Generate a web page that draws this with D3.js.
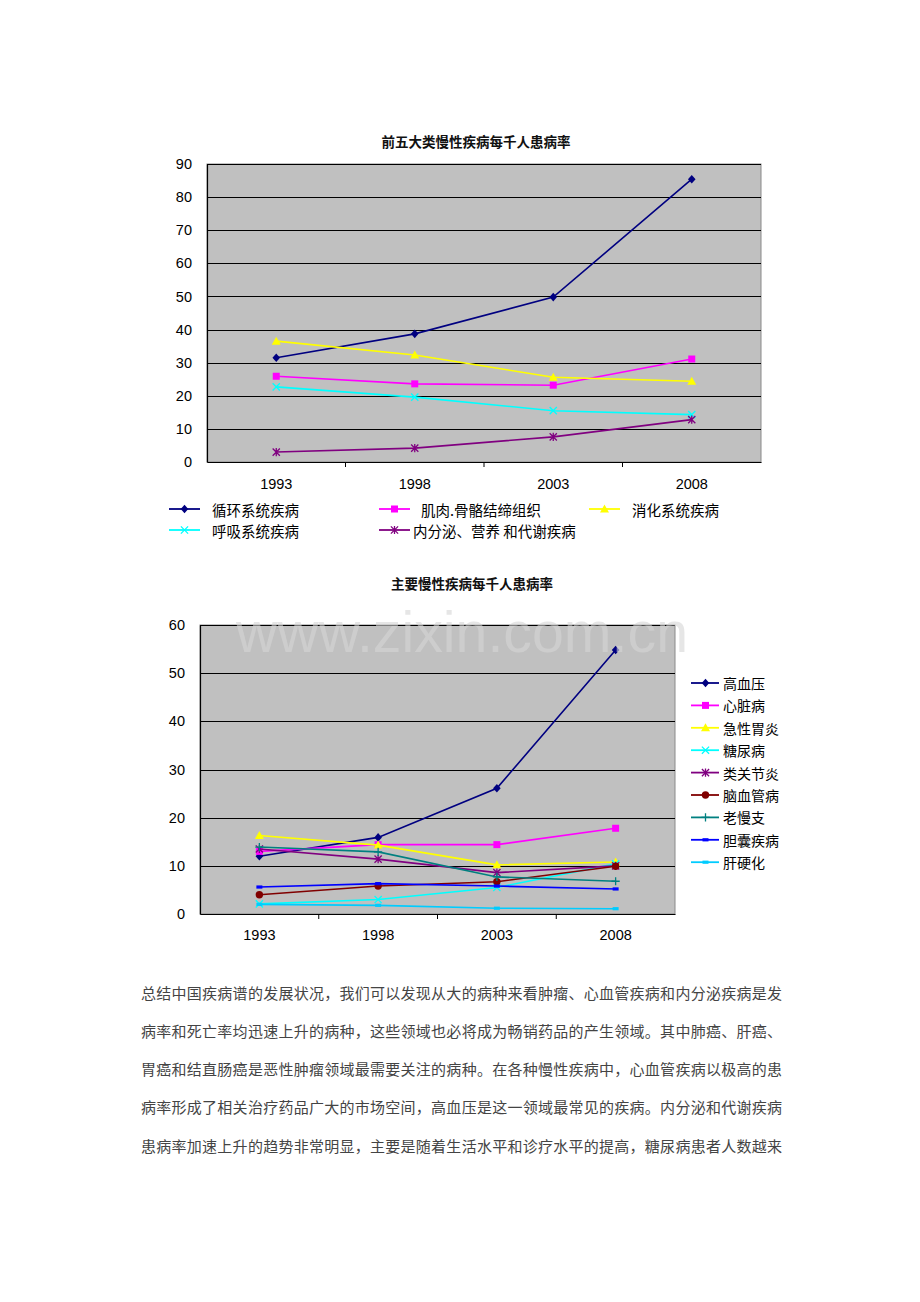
<!DOCTYPE html>
<html>
<head>
<meta charset="utf-8">
<script src="https://cdn.jsdelivr.net/npm/d3@7/dist/d3.min.js"></script>
<style>
  html, body { margin: 0; padding: 0; background: #fff; }
  svg { display: block; }
</style>
</head>
<body>
<script>
// ---------- DATA ----------
const years = ["1993", "1998", "2003", "2008"];

// Chart 1: 前五大类慢性疾病每千人患病率
const chart1Title = "前五大类慢性疾病每千人患病率";
const chart1Ticks = [0, 10, 20, 30, 40, 50, 60, 70, 80, 90];
const circulatory = [31.5, 38.7, 49.8, 85.4];   // 循环系统疾病
const musculoskeletal = [25.9, 23.6, 23.2, 31.1]; // 肌肉.骨骼结缔组织
const digestive = [36.5, 32.3, 25.6, 24.4];     // 消化系统疾病
const respiratory = [22.7, 19.6, 15.5, 14.3];   // 呼吸系统疾病
const endocrine = [3.0, 4.2, 7.6, 12.8];        // 内分泌、营养 和代谢疾病
const chart1Names = ["循环系统疾病", "肌肉.骨骼结缔组织", "消化系统疾病", "呼吸系统疾病", "内分泌、营养 和代谢疾病"];

// Chart 2: 主要慢性疾病每千人患病率
const chart2Title = "主要慢性疾病每千人患病率";
const chart2Ticks = [0, 10, 20, 30, 40, 50, 60];
const hypertension = [12.0, 15.9, 26.1, 54.8];  // 高血压
const heartDisease = [13.0, 14.4, 14.4, 17.8];  // 心脏病
const gastritis = [16.3, 14.3, 10.2, 10.8];     // 急性胃炎
const diabetes = [2.1, 3.0, 5.5, 10.4];         // 糖尿病
const arthritis = [13.5, 11.4, 8.6, 10.0];      // 类关节炎
const cerebrovascular = [4.0, 5.8, 6.7, 9.9];   // 脑血管病
const bronchitis = [13.9, 12.9, 7.7, 6.8];      // 老慢支
const gallbladder = [5.6, 6.3, 5.8, 5.2];       // 胆囊疾病
const cirrhosis = [2.0, 1.8, 1.2, 1.1];         // 肝硬化
const chart2Names = ["高血压", "心脏病", "急性胃炎", "糖尿病", "类关节炎", "脑血管病", "老慢支", "胆囊疾病", "肝硬化"];

const watermark = "www.zixin.com.cn";

const paragraph = [
  "总结中国疾病谱的发展状况，我们可以发现从大的病种来看肿瘤、心血管疾病和内分泌疾病是发",
  "病率和死亡率均迅速上升的病种，这些领域也必将成为畅销药品的产生领域。其中肺癌、肝癌、",
  "胃癌和结直肠癌是恶性肿瘤领域最需要关注的病种。在各种慢性疾病中，心血管疾病以极高的患",
  "病率形成了相关治疗药品广大的市场空间，高血压是这一领域最常见的疾病。内分泌和代谢疾病",
  "患病率加速上升的趋势非常明显，主要是随着生活水平和诊疗水平的提高，糖尿病患者人数越来"
];

// ---------- STYLES ----------
const chart1Styles = [
  { color: "#000080", marker: "diamond" },
  { color: "#FF00FF", marker: "square" },
  { color: "#FFFF00", marker: "triangle" },
  { color: "#00FFFF", marker: "x" },
  { color: "#800080", marker: "star" }
];
const chart2Styles = [
  { color: "#000080", marker: "diamond" },
  { color: "#FF00FF", marker: "square" },
  { color: "#FFFF00", marker: "triangle" },
  { color: "#00FFFF", marker: "x" },
  { color: "#800080", marker: "star" },
  { color: "#800000", marker: "circle" },
  { color: "#008080", marker: "plus" },
  { color: "#0000FF", marker: "dash" },
  { color: "#00CCFF", marker: "dash" }
];

const CJK = "'Noto Sans CJK SC', 'Noto Sans', sans-serif";
const NUM = "'Liberation Sans', Arial, sans-serif";

const svg = d3.select("body").append("svg")
  .attr("width", 920).attr("height", 1302)
  .attr("viewBox", "0 0 920 1302");

function drawMarker(g, type, x, y, color) {
  const s = 3.6;
  if (type === "diamond") {
    g.append("path").attr("d", "M0,-4.3L3.8,0L0,4.3L-3.8,0Z")
      .attr("transform", `translate(${x},${y})`).attr("fill", color);
  } else if (type === "square") {
    g.append("rect").attr("x", x - 3.5).attr("y", y - 3.5).attr("width", 7).attr("height", 7).attr("fill", color);
  } else if (type === "triangle") {
    g.append("path").attr("d", "M0,-4.5L4.5,3.5L-4.5,3.5Z")
      .attr("transform", `translate(${x},${y})`).attr("fill", color);
  } else if (type === "circle") {
    g.append("circle").attr("cx", x).attr("cy", y).attr("r", 3.7).attr("fill", color);
  } else if (type === "x" || type === "star" || type === "plus") {
    const p = d3.path();
    if (type !== "plus") {
      p.moveTo(x - s, y - s); p.lineTo(x + s, y + s);
      p.moveTo(x - s, y + s); p.lineTo(x + s, y - s);
    }
    if (type === "star" || type === "plus") {
      p.moveTo(x, y - s - 0.5); p.lineTo(x, y + s + 0.5);
    }
    if (type === "plus") {
      p.moveTo(x - s - 0.5, y); p.lineTo(x + s + 0.5, y);
    }
    g.append("path").attr("d", p.toString()).attr("stroke", color).attr("stroke-width", 1.3).attr("fill", "none");
  } else if (type === "dash") {
    g.append("rect").attr("x", x - 3).attr("y", y - 1.6).attr("width", 6).attr("height", 3.2).attr("fill", color);
  }
}

function drawChart(cfg) {
  const { left, right, top, bottom, max, ticks, series, styles, title, titleX, titleY, labelY } = cfg;
  const g = svg.append("g");
  const x = d3.scaleBand().domain(years).range([left, right]).paddingInner(0).paddingOuter(0);
  const y = d3.scaleLinear().domain([0, max]).range([bottom, top]);

  // title
  g.append("text").attr("x", titleX).attr("y", titleY)
    .attr("text-anchor", "middle").attr("dominant-baseline", "central")
    .attr("font-family", CJK).attr("font-size", 13.5).attr("font-weight", "bold").attr("fill", "#111")
    .text(title);

  // plot background
  g.append("rect").attr("x", left).attr("y", top).attr("width", right - left).attr("height", bottom - top)
    .attr("fill", "#C0C0C0").attr("stroke", "#8a8a8a").attr("stroke-width", 1);

  // gridlines
  g.append("g").selectAll("line").data(ticks.filter(t => t > 0)).join("line")
    .attr("x1", left).attr("x2", right)
    .attr("y1", d => Math.round(y(d)) + 0.5).attr("y2", d => Math.round(y(d)) + 0.5)
    .attr("stroke", "#000").attr("stroke-width", 1.2);

  // y axis
  const yAxis = d3.axisLeft(y).tickValues(ticks).tickSize(0).tickPadding(15).tickFormat(d3.format("d"));
  const ya = g.append("g").attr("transform", `translate(${left},0)`).call(yAxis);
  ya.select(".domain").attr("stroke", "#000").attr("stroke-width", 1.2);
  ya.selectAll("text").attr("font-family", NUM).attr("font-size", 14.5).attr("fill", "#000");

  // x axis
  const xAxis = d3.axisBottom(x).tickSize(0).tickPadding(0);
  const xa = g.append("g").attr("transform", `translate(0,${bottom})`).call(xAxis);
  xa.select(".domain").attr("stroke", "#000").attr("stroke-width", 1.2);
  xa.selectAll(".tick text").attr("font-family", NUM).attr("font-size", 14.5).attr("fill", "#000")
    .attr("y", labelY - bottom).attr("dy", "0.35em");
  // tick marks between categories
  g.append("g").selectAll("line").data(years.slice(1)).join("line")
    .attr("x1", d => x(d)).attr("x2", d => x(d))
    .attr("y1", bottom).attr("y2", bottom + 5)
    .attr("stroke", "#000").attr("stroke-width", 1);

  // series
  const line = d3.line().x((d, i) => x(years[i]) + x.bandwidth() / 2).y(d => y(d));
  series.forEach((vals, si) => {
    const st = styles[si];
    const sg = g.append("g");
    sg.append("path").attr("d", line(vals)).attr("fill", "none")
      .attr("stroke", st.color).attr("stroke-width", 1.6);
    vals.forEach((v, i) => drawMarker(sg, st.marker, x(years[i]) + x.bandwidth() / 2, y(v), st.color));
  });
  return { x, y, g };
}

// ---------- CHART 1 ----------
drawChart({
  left: 207, right: 761, top: 164, bottom: 462, max: 90, ticks: chart1Ticks,
  series: [circulatory, musculoskeletal, digestive, respiratory, endocrine],
  styles: chart1Styles, title: chart1Title, titleX: 476, titleY: 141, labelY: 484
});

// legend 1
const leg1Pos = [
  { lx: 169, tx: 212, y: 509 },
  { lx: 379, tx: 421, y: 509 },
  { lx: 589, tx: 632, y: 509 },
  { lx: 169, tx: 212, y: 530 },
  { lx: 379, tx: 413, y: 530 }
];
const leg1 = svg.append("g");
chart1Names.forEach((n, i) => {
  const p = leg1Pos[i], st = chart1Styles[i];
  leg1.append("line").attr("x1", p.lx).attr("x2", p.lx + 31).attr("y1", p.y).attr("y2", p.y)
    .attr("stroke", st.color).attr("stroke-width", 1.8);
  drawMarker(leg1, st.marker, p.lx + 15.5, p.y, st.color);
  leg1.append("text").attr("x", p.tx).attr("y", p.y).attr("dominant-baseline", "central")
    .attr("font-family", CJK).attr("font-size", 14.5).attr("fill", "#000").text(n);
});

// ---------- CHART 2 ----------
drawChart({
  left: 200, right: 675, top: 625, bottom: 914, max: 60, ticks: chart2Ticks,
  series: [hypertension, heartDisease, gastritis, diabetes, arthritis, cerebrovascular, bronchitis, gallbladder, cirrhosis],
  styles: chart2Styles, title: chart2Title, titleX: 472, titleY: 583, labelY: 935
});

// watermark
svg.append("text").attr("x", 236).attr("y", 652)
  .attr("font-family", NUM).attr("font-size", 57).attr("fill", "#d6d6d6").attr("fill-opacity", 0.6)
  .attr("textLength", 452).attr("lengthAdjust", "spacingAndGlyphs")
  .text(watermark);

// legend 2
const leg2 = svg.append("g");
chart2Names.forEach((n, i) => {
  const st = chart2Styles[i];
  const yy = 683 + i * 22.4;
  leg2.append("line").attr("x1", 691).attr("x2", 719).attr("y1", yy).attr("y2", yy)
    .attr("stroke", st.color).attr("stroke-width", 1.8);
  drawMarker(leg2, st.marker, 705.5, yy, st.color);
  leg2.append("text").attr("x", 723).attr("y", yy).attr("dominant-baseline", "central")
    .attr("font-family", CJK).attr("font-size", 14).attr("fill", "#000").text(n);
});

// ---------- PARAGRAPH ----------
const para = svg.append("g");
paragraph.forEach((t, i) => {
  para.append("text").attr("x", 141).attr("y", 992 + i * 38.3)
    .attr("dominant-baseline", "central")
    .attr("font-family", CJK).attr("font-size", 15).attr("fill", "#444")
    .attr("textLength", 641).attr("lengthAdjust", "spacing")
    .text(t);
});
</script>
</body>
</html>
